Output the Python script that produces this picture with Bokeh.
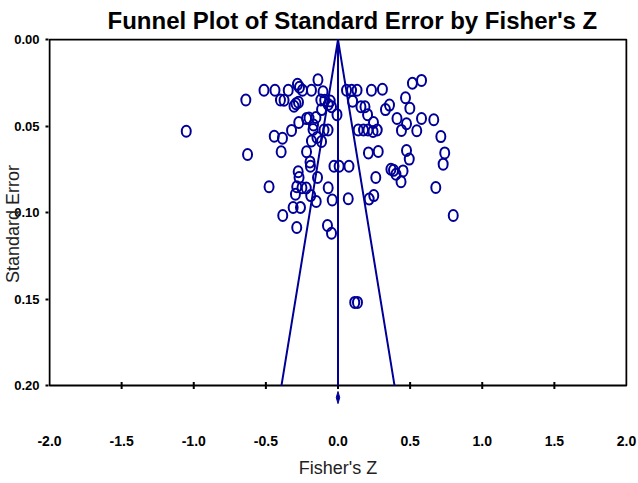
from bokeh.plotting import figure
from bokeh.models import Range1d, FixedTicker, PrintfTickFormatter
from bokeh.embed import file_html
from bokeh.resources import INLINE
import math

# ---- data ----
fisher_z = [-0.513, -0.437, -0.345, -0.281, -0.267, -0.246, -0.184, -0.139, -0.104, 0.059, 0.094, 0.132, 0.232, 0.308, 0.516, 0.579,
            -0.639, -0.399, -0.374, -0.305, -0.291, -0.274, -0.119, -0.092, -0.068, -0.054, -0.045, -0.114, -0.007, 0.101, 0.159, 0.187, 0.205, 0.329, 0.357, 0.468, 0.498,
            -0.322, -0.272, -0.218, -0.201, -0.153, -0.170, -0.173, -0.097, -0.069, -0.442, -0.385, -0.184, -0.146, -0.114, 0.140, 0.177, 0.208, 0.243, 0.272, 0.246, 0.409, 0.475, 0.440, 0.546, 0.579, 0.664, 0.713, -1.052,
            -0.627, -0.394, -0.218, -0.194, -0.191, -0.028, 0.008, 0.076, 0.211, 0.279, 0.475, 0.494, 0.740, 0.729,
            -0.276, -0.270, -0.142, 0.367, 0.385, 0.402, 0.451, 0.437, 0.262, 0.678, -0.478, -0.286, -0.250, -0.220, -0.068, -0.295, -0.189, -0.151, -0.040, 0.071, 0.216, 0.248,
            -0.311, -0.260, -0.383, 0.799, -0.286, -0.073, -0.045, 0.116, 0.135]
std_err = [0.0293, 0.0293, 0.0293, 0.0259, 0.0276, 0.0293, 0.0293, 0.0233, 0.0302, 0.0293, 0.0293, 0.0293, 0.0293, 0.0287, 0.0253, 0.0236,
           0.0349, 0.0349, 0.0351, 0.0385, 0.0371, 0.0362, 0.0349, 0.0351, 0.0375, 0.0355, 0.0389, 0.0405, 0.0434, 0.0356, 0.0388, 0.0388, 0.0434, 0.0405, 0.0379, 0.0336, 0.0397,
           0.0525, 0.0480, 0.0457, 0.0454, 0.0451, 0.0494, 0.0520, 0.0523, 0.0523, 0.0559, 0.0571, 0.0586, 0.0566, 0.0589, 0.0523, 0.0523, 0.0523, 0.0532, 0.0523, 0.0480, 0.0456, 0.0487, 0.0525, 0.0527, 0.0456, 0.0464, 0.0561, 0.0530,
           0.0664, 0.0648, 0.0649, 0.0707, 0.0732, 0.0732, 0.0732, 0.0732, 0.0655, 0.0647, 0.0641, 0.0691, 0.0655, 0.0720,
           0.0764, 0.0797, 0.0797, 0.0750, 0.0756, 0.0779, 0.0759, 0.0822, 0.0797, 0.0855, 0.0851, 0.0851, 0.0856, 0.0858, 0.0857, 0.0894, 0.0902, 0.0936, 0.0927, 0.0920, 0.0921, 0.0902,
           0.0971, 0.0971, 0.1017, 0.1017, 0.1086, 0.1075, 0.1120, 0.1519, 0.1519]

summary_z = 0.0
summary_lo = -0.012
summary_hi = 0.012

x_ticks = [-2.0, -1.5, -1.0, -0.5, 0.0, 0.5, 1.0, 1.5, 2.0]
y_ticks = [0.00, 0.05, 0.10, 0.15, 0.20]
se_max = 0.20

# ---- styling ----
NAVY = "#000099"
FONT = "Liberation Sans"
x_pad = 0.007              # ~1px so the frame box is not clipped
y_pad = 0.0006
y_extra = 0.0138           # room below the frame for the summary diamond
diamond_gap = 0.0069
diamond_half = 0.0035

p = figure(width=638, height=483, output_backend="svg", toolbar_location=None,
           x_range=Range1d(x_ticks[0] - x_pad, x_ticks[-1] + x_pad),
           y_range=Range1d(se_max + y_extra, -y_pad),
           min_border_left=48, min_border_right=11, min_border_top=37, min_border_bottom=74,
           background_fill_color="white", border_fill_color="white")
p.outline_line_color = None
p.grid.visible = False

p.title.text = "Funnel Plot of Standard Error by Fisher's Z"
p.title.text_font = FONT
p.title.text_font_size = "24px"
p.title.text_font_style = "bold"
p.title.text_color = "black"
p.title.align = "left"
p.title.offset = 59
p.title.standoff = 9

# x axis
xa = p.xaxis[0]
xa.ticker = FixedTicker(ticks=x_ticks)
xa.formatter = PrintfTickFormatter(format="%.1f")
xa.axis_line_color = None
xa.major_tick_in = 0
xa.major_tick_out = 0
xa.minor_tick_line_color = None
xa.major_label_standoff = 26
xa.major_label_text_font = FONT
xa.major_label_text_font_style = "bold"
xa.major_label_text_font_size = "14px"
xa.major_label_text_color = "black"
xa.axis_label = "Fisher's Z"
xa.axis_label_text_font = FONT
xa.axis_label_text_font_style = "normal"
xa.axis_label_text_font_size = "18px"
xa.axis_label_text_color = "#222222"
xa.axis_label_standoff = 9

# y axis
ya = p.yaxis[0]
ya.ticker = FixedTicker(ticks=y_ticks)
ya.formatter = PrintfTickFormatter(format="%.2f")
ya.axis_line_color = None
ya.major_tick_in = 0
ya.major_tick_out = 3
ya.major_tick_line_width = 2
ya.minor_tick_line_color = None
ya.major_label_standoff = 6
ya.major_label_text_font = FONT
ya.major_label_text_font_style = "bold"
ya.major_label_text_font_size = "13px"
ya.major_label_text_color = "black"
ya.axis_label = "Standard Error"
ya.axis_label_text_font = FONT
ya.axis_label_text_font_style = "normal"
ya.axis_label_text_font_size = "18px"
ya.axis_label_text_color = "#222222"
ya.axis_label_standoff = -12

# frame box
p.quad(left=[x_ticks[0]], right=[x_ticks[-1]], top=[0.0], bottom=[se_max],
       fill_color=None, line_color="black", line_width=2)

# x tick marks on the frame bottom
p.scatter(x=x_ticks[1:-1], y=[se_max] * (len(x_ticks) - 2), marker="dash", angle=math.pi / 2,
          size=7, line_color="black", line_width=2)

# funnel
p.line([summary_z - 1.96 * se_max, summary_z, summary_z + 1.96 * se_max], [se_max, 0.0, se_max],
       line_color=NAVY, line_width=2)
p.line([summary_z, summary_z], [0.0, se_max], line_color=NAVY, line_width=2)

# studies
p.ellipse(x=fisher_z, y=std_err, width=9, height=11, width_units="screen", height_units="screen",
          fill_color=None, line_color=NAVY, line_width=2)

# summary diamond
dy = se_max + diamond_gap
p.patch([summary_lo, summary_z, summary_hi, summary_z], [dy, dy - diamond_half, dy, dy + diamond_half],
        fill_color=NAVY, line_color=NAVY, line_width=1)

open("out.html", "w").write(file_html(p, INLINE))
